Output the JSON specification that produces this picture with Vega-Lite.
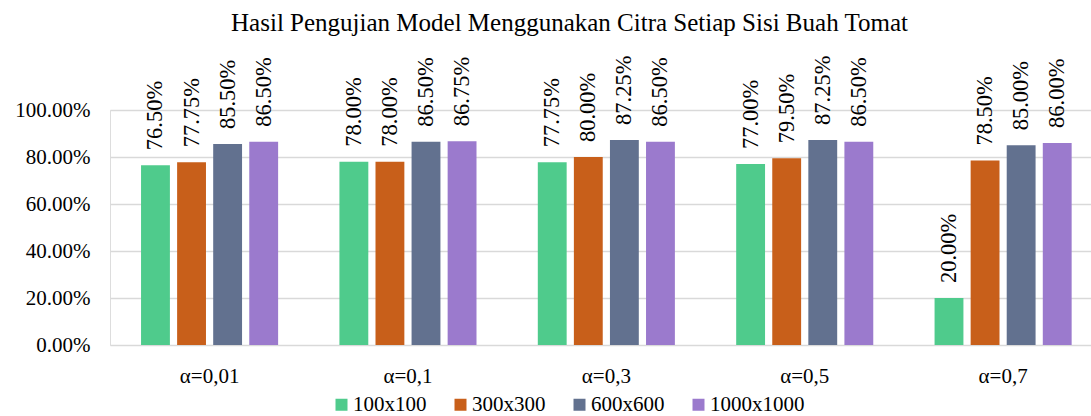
{
  "$schema": "https://vega.github.io/schema/vega-lite/v6.json",
  "autosize": {"type": "none"},
  "width": 981,
  "height": 235,
  "padding": {"left": 110, "top": 110, "right": 0, "bottom": 71},
  "background": "white",
  "title": {
    "text": "Hasil Pengujian Model Menggunakan Citra Setiap Sisi Buah Tomat",
    "font": "Liberation Serif",
    "fontSize": 25,
    "fontWeight": "normal",
    "color": "#000000",
    "anchor": "middle",
    "dx": -31,
    "offset": 20
  },
  "data": {
    "values": [
      {"alpha": "α=0,01", "size": "100x100", "acc": 0.765},
      {"alpha": "α=0,01", "size": "300x300", "acc": 0.7775},
      {"alpha": "α=0,01", "size": "600x600", "acc": 0.855},
      {"alpha": "α=0,01", "size": "1000x1000", "acc": 0.865},
      {"alpha": "α=0,1", "size": "100x100", "acc": 0.78},
      {"alpha": "α=0,1", "size": "300x300", "acc": 0.78},
      {"alpha": "α=0,1", "size": "600x600", "acc": 0.865},
      {"alpha": "α=0,1", "size": "1000x1000", "acc": 0.8675},
      {"alpha": "α=0,3", "size": "100x100", "acc": 0.7775},
      {"alpha": "α=0,3", "size": "300x300", "acc": 0.80},
      {"alpha": "α=0,3", "size": "600x600", "acc": 0.8725},
      {"alpha": "α=0,3", "size": "1000x1000", "acc": 0.865},
      {"alpha": "α=0,5", "size": "100x100", "acc": 0.77},
      {"alpha": "α=0,5", "size": "300x300", "acc": 0.795},
      {"alpha": "α=0,5", "size": "600x600", "acc": 0.8725},
      {"alpha": "α=0,5", "size": "1000x1000", "acc": 0.865},
      {"alpha": "α=0,7", "size": "100x100", "acc": 0.20},
      {"alpha": "α=0,7", "size": "300x300", "acc": 0.785},
      {"alpha": "α=0,7", "size": "600x600", "acc": 0.85},
      {"alpha": "α=0,7", "size": "1000x1000", "acc": 0.86}
    ]
  },
  "encoding": {
    "x": {
      "field": "alpha",
      "type": "nominal",
      "sort": null,
      "scale": {"paddingInner": 0.309, "paddingOuter": 0.127, "align": 0.616},
      "axis": {
        "title": null,
        "labelAngle": 0,
        "labelFont": "Liberation Serif",
        "labelFontSize": 21,
        "labelColor": "#000000",
        "labelPadding": 20,
        "ticks": false,
        "domain": false
      }
    },
    "xOffset": {
      "field": "size",
      "type": "nominal",
      "sort": ["100x100", "300x300", "600x600", "1000x1000"],
      "scale": {"paddingInner": 0.2, "paddingOuter": 0}
    },
    "y": {
      "field": "acc",
      "type": "quantitative",
      "scale": {"domain": [0, 1], "nice": false},
      "axis": {
        "title": null,
        "format": ".2%",
        "values": [0, 0.2, 0.4, 0.6, 0.8, 1.0],
        "labelFont": "Liberation Serif",
        "labelFontSize": 21,
        "labelColor": "#000000",
        "labelPadding": 20,
        "ticks": false,
        "domain": false,
        "gridColor": "#d9d9d9",
        "gridWidth": 1.5
      }
    }
  },
  "layer": [
    {
      "mark": {"type": "bar"},
      "encoding": {
        "color": {
          "field": "size",
          "type": "nominal",
          "sort": ["100x100", "300x300", "600x600", "1000x1000"],
          "scale": {
            "domain": ["100x100", "300x300", "600x600", "1000x1000"],
            "range": ["#4fcb8c", "#c85f1a", "#62718f", "#9b7acd"]
          },
          "legend": {
            "title": null,
            "orient": "none",
            "direction": "horizontal",
            "legendX": 221,
            "legendY": 284,
            "padding": 0,
            "symbolType": "square",
            "symbolSize": 144,
            "symbolStrokeWidth": 0,
            "labelFont": "Liberation Serif",
            "labelFontSize": 21,
            "labelColor": "#000000",
            "labelOffset": 1,
            "columnPadding": 23
          }
        }
      }
    },
    {
      "mark": {
        "type": "text",
        "angle": 270,
        "align": "left",
        "baseline": "middle",
        "dx": 15,
        "font": "Liberation Serif",
        "fontSize": 22.5,
        "color": "#000000"
      },
      "encoding": {
        "text": {"field": "acc", "type": "quantitative", "format": ".2%"}
      }
    }
  ]
}
